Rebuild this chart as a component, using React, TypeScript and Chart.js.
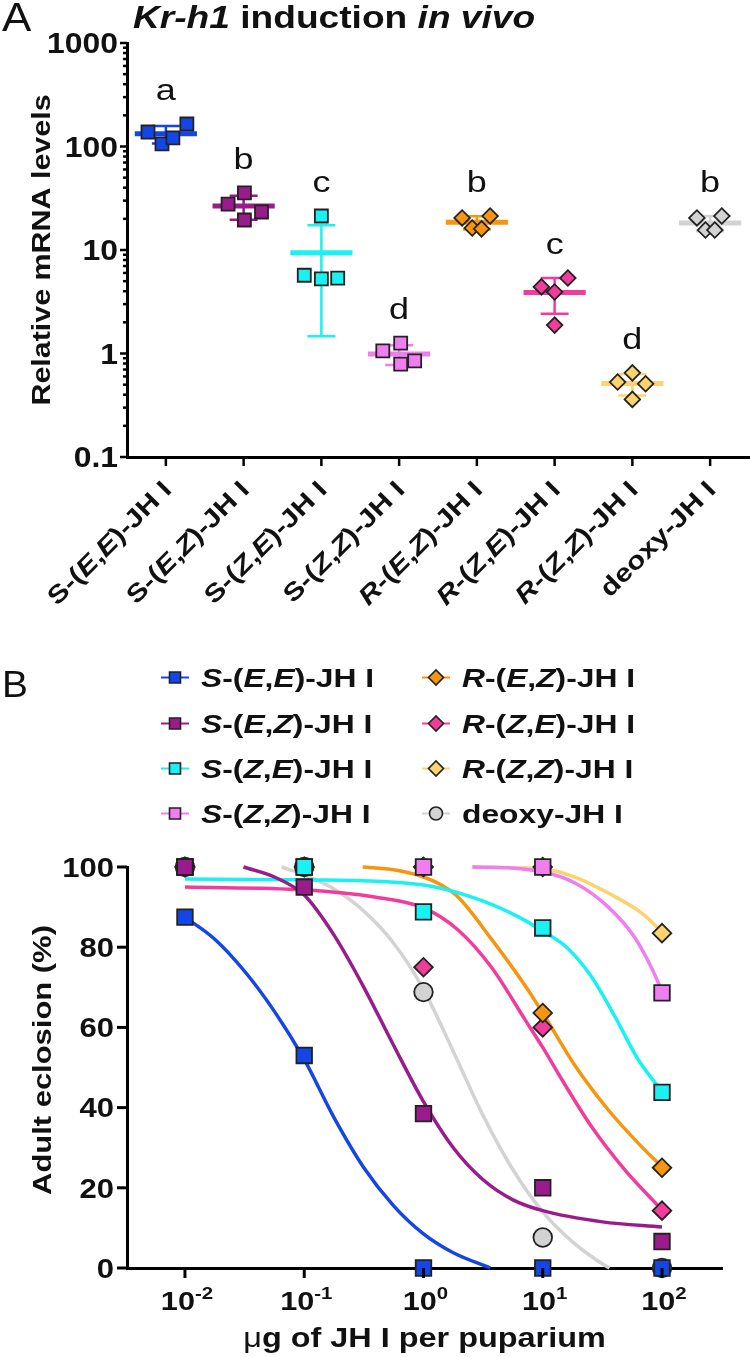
import React, { useEffect, useRef } from 'react';
import { Chart, registerables } from 'chart.js';

Chart.register(...registerables);

// ---------------- Panel A data (Kr-h1 induction, relative mRNA levels) ----------------
const compounds = ['S-(E,E)-JH I', 'S-(E,Z)-JH I', 'S-(Z,E)-JH I', 'S-(Z,Z)-JH I', 'R-(E,Z)-JH I', 'R-(Z,E)-JH I', 'R-(Z,Z)-JH I', 'deoxy-JH I'];
const krSEE = [138, 106, 121, 165];
const krSEZ = [27.8, 35.6, 19.5, 23.3];
const krSZE = [21.3, 5.7, 5.25, 5.36];
const krSZZ = [1.06, 1.26, 0.79, 0.85];
const krREZ = [20.4, 16.3, 16.0, 21.3];
const krRZE = [4.4, 3.93, 5.36, 1.88];
const krRZZ = [0.53, 0.65, 0.51, 0.36];
const krDeoxy = [20.4, 21.3, 15.6, 15.6];
const krJitter = [
  [-0.23, -0.05, 0.09, 0.27],
  [-0.2, 0.01, 0.01, 0.23],
  [0, -0.22, 0, 0.21],
  [-0.21, 0.02, 0.02, 0.2],
  [-0.19, -0.06, 0.06, 0.17],
  [-0.17, 0, 0.17, 0],
  [-0.19, 0, 0.17, 0],
  [-0.17, 0.15, -0.06, 0.06],
];
const sigLetters = ['a', 'b', 'c', 'd', 'b', 'c', 'd', 'b'];
const yTicksA = [0.1, 1, 10, 100, 1000];
const yTickLabelsA = ['0.1', '1', '10', '100', '1000'];

// ---------------- Panel B data (adult eclosion %) ----------------
const dosesB = [0.01, 0.1, 1, 10, 100];
const eclSEE = [87.5, 53, 0, 0, 0];
const eclSEZ = [100, 95, 38.5, 20, 6.6];
const eclSZE = [100, 100, 88.8, 84.8, 43.8];
const eclSZZ = [100, 100, 100, 100, 68.6];
const eclREZ = [100, 100, 100, 63.6, 25];
const eclRZE = [100, 100, 75, 60, 14.3];
const eclRZZ = [100, 100, 100, 100, 83.5];
const eclDeoxy = [100, 100, 68.8, 7.6, 0];

// fitted curves (log10 dose, % eclosion)
const fitLogSEE = [-2, -1.75, -1.5, -1.25, -1, -0.75, -0.5, -0.25, 0, 0.25, 0.56];
const fitSEE = [87.5, 82, 74, 64, 52, 37.5, 25, 15.5, 8.5, 3.8, 0];
const fitLogSEZ = [-1.51, -1.25, -1, -0.75, -0.5, -0.25, 0, 0.25, 0.5, 0.75, 1, 1.5, 2];
const fitSEZ = [100, 97.5, 93, 83, 70, 55.5, 41.5, 30, 22, 17, 14.3, 11.5, 10.2];
const fitLogSZE = [-2, -1, 0, 0.5, 0.8, 1, 1.2, 1.4, 1.6, 1.8, 2];
const fitSZE = [97, 96.8, 95.5, 91.5, 87.5, 84, 80, 73, 63, 52, 44];
const fitLogSZZ = [0.41, 0.71, 1, 1.27, 1.55, 1.77, 1.91, 2];
const fitSZZ = [100, 99.8, 98.8, 96, 90, 82.5, 75, 69];
const fitLogREZ = [-0.51, -0.25, 0, 0.15, 0.29, 0.57, 0.85, 1, 1.27, 1.55, 1.83, 2];
const fitREZ = [100, 99.3, 97.5, 95.5, 92.5, 82, 70.5, 63.6, 50.5, 39.4, 30.2, 25.2];
const fitLogRZE = [-2, -1, -0.41, 0, 0.29, 0.57, 0.85, 1, 1.16, 1.41, 1.69, 2];
const fitRZE = [95, 94.3, 92.5, 89.8, 84.3, 75, 62, 55, 47, 35.2, 24.4, 14.5];
const fitLogRZZ = [0.41, 1, 1.27, 1.55, 1.83, 2];
const fitRZZ = [100, 99.5, 97.5, 93.5, 88.5, 83.8];
const fitLogDeoxy = [-1.19, -1, -0.75, -0.5, -0.25, 0, 0.25, 0.5, 0.75, 1, 1.25, 1.45, 1.56];
const fitDeoxy = [100, 98, 94.5, 89, 81, 69.5, 54, 38, 24.5, 14, 6.5, 2, 0];

const yTicksB = [0, 20, 40, 60, 80, 100];
const xTickExpB = [-2, -1, 0, 1, 2];

// ---------------- styles ----------------
const colors = ['#1446e6', '#9a1c8c', '#18f2f2', '#f07ef0', '#f8950f', '#f23c9c', '#fcd36c', '#d3d3d3'];
const shapesA = ['rect', 'rect', 'rect', 'rect', 'rectRot', 'rectRot', 'rectRot', 'rectRot'];
const shapesB = ['rect', 'rect', 'rect', 'rect', 'rectRot', 'rectRot', 'rectRot', 'circle'];
const FONT = '"Liberation Sans", Arial, Helvetica, sans-serif';
const INK = '#111';

type Seg = { t: string; it?: boolean; w?: string; sup?: boolean };

function drawRich(
  ctx: CanvasRenderingContext2D,
  segs: Seg[],
  x: number,
  y: number,
  o: { size: number; weight?: string; align?: 'left' | 'center' | 'right'; sx?: number; rot?: number; color?: string }
) {
  const weight = o.weight ?? 'bold';
  const sx = o.sx ?? 1;
  ctx.save();
  ctx.translate(x, y);
  if (o.rot) ctx.rotate(o.rot);
  ctx.scale(sx, 1);
  ctx.fillStyle = o.color ?? INK;
  ctx.textBaseline = 'alphabetic';
  ctx.textAlign = 'left';
  const fontFor = (s: Seg) =>
    `${s.it ? 'italic ' : ''}${s.w ?? weight} ${s.sup ? Math.round(o.size * 0.68) : o.size}px ${FONT}`;
  const widths = segs.map((s) => {
    ctx.font = fontFor(s);
    return ctx.measureText(s.t).width;
  });
  const total = widths.reduce((a, b) => a + b, 0);
  let cx = o.align === 'center' ? -total / 2 : o.align === 'right' ? -total : 0;
  segs.forEach((s, i) => {
    ctx.font = fontFor(s);
    ctx.fillText(s.t, cx, s.sup ? -o.size * 0.42 : 0);
    cx += widths[i];
  });
  ctx.restore();
}

function richName(label: string, italicS: boolean): Seg[] {
  const m = label.match(/^([SR])-\(([EZ]),([EZ])\)(.*)$/);
  if (!m) return [{ t: label }];
  return [
    { t: m[1], it: m[1] === 'R' || italicS },
    { t: '-(' },
    { t: m[2], it: true },
    { t: ',' },
    { t: m[3], it: true },
    { t: ')' + m[4] },
  ];
}

function line(ctx: CanvasRenderingContext2D, x1: number, y1: number, x2: number, y2: number) {
  ctx.beginPath();
  ctx.moveTo(x1, y1);
  ctx.lineTo(x2, y2);
  ctx.stroke();
}

function drawMarker(ctx: CanvasRenderingContext2D, style: string, x: number, y: number, size: number, fill: string) {
  ctx.beginPath();
  if (style === 'rect') ctx.rect(x - size / 2, y - size / 2, size, size);
  else if (style === 'rectRot') {
    ctx.moveTo(x - size / 2, y);
    ctx.lineTo(x, y - size / 2);
    ctx.lineTo(x + size / 2, y);
    ctx.lineTo(x, y + size / 2);
    ctx.closePath();
  } else ctx.arc(x, y, size / 2, 0, Math.PI * 2);
  ctx.fillStyle = fill;
  ctx.fill();
  ctx.lineWidth = 1.6;
  ctx.strokeStyle = '#222';
  ctx.stroke();
}

const axisStyle = {
  grid: { display: false, drawTicks: false },
  ticks: { display: false },
  border: { display: true, width: 3, color: '#000' },
  title: { display: false },
};

// ---------------- Panel A ----------------
const groupsA = [krSEE, krSEZ, krSZE, krSZZ, krREZ, krRZE, krRZZ, krDeoxy];

const decorA = {
  id: 'decorA',
  afterDraw(chart: any) {
    const { ctx, chartArea, scales } = chart;
    const x = scales.x;
    const y = scales.y;
    ctx.save();
    drawRich(ctx, [{ t: 'A' }], 2, 31, { size: 40, weight: 'normal', sx: 1.1 });
    drawRich(ctx, [{ t: 'Kr-h1', it: true }, { t: ' induction ' }, { t: 'in vivo', it: true }], 133, 28, { size: 32, sx: 1.16 });

    ctx.strokeStyle = '#000';
    ctx.lineWidth = 2.5;
    [0.1, 1, 10, 100].forEach((d) => {
      for (let m = 2; m <= 9; m++) {
        const py = y.getPixelForValue(d * m);
        line(ctx, chartArea.left - 4, py, chartArea.left, py);
      }
    });
    yTicksA.forEach((v, i) => {
      const py = y.getPixelForValue(v);
      line(ctx, chartArea.left - 7, py, chartArea.left, py);
      drawRich(ctx, [{ t: yTickLabelsA[i] }], 118, py + 10.4, { size: 29, align: 'right', sx: 1.1 });
    });
    drawRich(ctx, [{ t: 'Relative mRNA levels' }], 50, (chartArea.top + chartArea.bottom) / 2, {
      size: 26, align: 'center', sx: 1.17, rot: -Math.PI / 2,
    });

    compounds.forEach((name, i) => {
      const px = x.getPixelForValue(i);
      line(ctx, px, chartArea.bottom, px, chartArea.bottom + 9);
      drawRich(ctx, richName(name, false), px + 7, chartArea.bottom + 34, {
        size: 25, align: 'right', sx: 1.2, rot: -Math.PI / 4,
      });
      const top = y.getPixelForValue(Math.max(...groupsA[i]));
      drawRich(ctx, [{ t: sigLetters[i] }], px, top - 24, { size: 30, weight: 'normal', align: 'center', sx: 1.2 });
    });
    ctx.restore();
  },
};

function PanelA() {
  const ref = useRef<HTMLCanvasElement>(null);
  useEffect(() => {
    const datasets: any[] = [];
    groupsA.forEach((vals, i) => {
      const mean = vals.reduce((a, b) => a + b, 0) / vals.length;
      const sd = Math.sqrt(vals.reduce((a, b) => a + (b - mean) ** 2, 0) / (vals.length - 1));
      const lo = mean - sd;
      const hi = mean + sd;
      const col = colors[i];
      datasets.push({
        type: 'scatter',
        label: compounds[i],
        data: vals.map((v, j) => ({ x: i + krJitter[i][j], y: v })),
        pointStyle: shapesA[i],
        pointRadius: shapesA[i] === 'rect' ? 9.2 : 7.8,
        pointHoverRadius: shapesA[i] === 'rect' ? 9.2 : 7.8,
        backgroundColor: col,
        borderColor: '#222',
        borderWidth: 1.8,
        order: 0,
        clip: false,
      });
      datasets.push({
        type: 'line',
        data: [{ x: i - 0.4, y: mean }, { x: i + 0.4, y: mean }],
        borderColor: col,
        borderWidth: 5,
        pointRadius: 0,
        order: 1,
        clip: false,
      });
      datasets.push({
        type: 'line',
        data: [
          { x: i, y: lo }, { x: i, y: hi }, { x: i, y: null },
          { x: i - 0.18, y: lo }, { x: i + 0.18, y: lo }, { x: i, y: null },
          { x: i - 0.18, y: hi }, { x: i + 0.18, y: hi },
        ],
        borderColor: col,
        borderWidth: 2.5,
        pointRadius: 0,
        spanGaps: false,
        order: 2,
        clip: false,
      });
    });
    const chart = new Chart(ref.current as HTMLCanvasElement, {
      type: 'scatter',
      data: { datasets },
      options: {
        animation: false,
        responsive: false,
        events: [],
        layout: { autoPadding: false, padding: { left: 127, right: 1, top: 43, bottom: 620 - 457 } },
        plugins: { legend: { display: false }, tooltip: { enabled: false } },
        scales: {
          x: { type: 'linear', min: -0.5, max: 7.5, ...axisStyle },
          y: { type: 'logarithmic', min: 0.1, max: 1000, ...axisStyle },
        },
      } as any,
      plugins: [decorA],
    });
    return () => chart.destroy();
  }, []);
  return <canvas ref={ref} width={750} height={620} style={{ display: 'block' }} />;
}

// ---------------- Panel B ----------------
const markersB = [eclSEE, eclSEZ, eclSZE, eclSZZ, eclREZ, eclRZE, eclRZZ, eclDeoxy];
const fitsB = [
  [fitLogSEE, fitSEE], [fitLogSEZ, fitSEZ], [fitLogSZE, fitSZE], [fitLogSZZ, fitSZZ],
  [fitLogREZ, fitREZ], [fitLogRZE, fitRZE], [fitLogRZZ, fitRZZ], [fitLogDeoxy, fitDeoxy],
];

const decorB = {
  id: 'decorB',
  afterDraw(chart: any) {
    const { ctx, chartArea, scales } = chart;
    const x = scales.x;
    const y = scales.y;
    ctx.save();
    drawRich(ctx, [{ t: 'B' }], 2, 77, { size: 36, weight: 'normal', sx: 1.08 });

    // legend
    const rows = [67, 113, 158, 203];
    const cols = [{ mx: 175, tx: 201 }, { mx: 436, tx: 462 }];
    compounds.forEach((name, i) => {
      const c = cols[Math.floor(i / 4)];
      const base = rows[i % 4];
      const cy = base - 9.5;
      ctx.strokeStyle = colors[i];
      ctx.lineWidth = 2;
      line(ctx, c.mx - 14, cy, c.mx + 14, cy);
      const st = shapesB[i];
      drawMarker(ctx, st, c.mx, cy, st === 'rect' ? 11 : st === 'rectRot' ? 15 : 13, colors[i]);
      drawRich(ctx, richName(name, true), c.tx, base, { size: 26.5, sx: 1.2 });
    });

    ctx.strokeStyle = '#000';
    ctx.lineWidth = 3;
    yTicksB.forEach((v) => {
      const py = y.getPixelForValue(v);
      line(ctx, chartArea.left - 10, py, chartArea.left, py);
      drawRich(ctx, [{ t: String(v) }], 114, py + 9.7, { size: 27, align: 'right', sx: 1.15 });
    });
    xTickExpB.forEach((e) => {
      const px = x.getPixelForValue(Math.pow(10, e));
      line(ctx, px, chartArea.bottom, px, chartArea.bottom + 10);
      drawRich(ctx, [{ t: '10' }, { t: String(e), sup: true }], px + 2, chartArea.bottom + 42, {
        size: 25.5, align: 'center', sx: 1.2,
      });
    });
    drawRich(ctx, [{ t: 'Adult eclosion (%)' }], 51, 440, { size: 26, align: 'center', sx: 1.19, rot: -Math.PI / 2 });
    drawRich(ctx, [{ t: 'μ', w: 'normal' }, { t: 'g of JH I per puparium' }], (chartArea.left + chartArea.right) / 2, 727, {
      size: 27, align: 'center', sx: 1.2,
    });
    ctx.restore();
  },
};

function PanelB() {
  const ref = useRef<HTMLCanvasElement>(null);
  useEffect(() => {
    const datasets: any[] = [];
    markersB.forEach((vals, i) => {
      const st = shapesB[i];
      const r = st === 'rect' ? 11 : 9.3;
      datasets.push({
        type: 'scatter',
        label: compounds[i],
        data: vals.map((v, j) => ({ x: dosesB[j], y: v })),
        pointStyle: st,
        pointRadius: r,
        pointHoverRadius: r,
        backgroundColor: colors[i],
        borderColor: '#222',
        borderWidth: 1.8,
        order: i,
        clip: false,
      });
      const [lx, ly] = fitsB[i];
      datasets.push({
        type: 'line',
        data: lx.map((e, j) => ({ x: Math.pow(10, e), y: ly[j] })),
        borderColor: colors[i],
        borderWidth: 3.5,
        pointRadius: 0,
        cubicInterpolationMode: 'monotone',
        order: 10 + i,
        clip: 4,
      });
    });
    const chart = new Chart(ref.current as HTMLCanvasElement, {
      type: 'scatter',
      data: { datasets },
      options: {
        animation: false,
        responsive: false,
        events: [],
        layout: { autoPadding: false, padding: { left: 127, right: 28, top: 247, bottom: 89 } },
        plugins: { legend: { display: false }, tooltip: { enabled: false } },
        scales: {
          x: { type: 'logarithmic', min: Math.pow(10, -2.486), max: Math.pow(10, 2.503), ...axisStyle },
          y: { type: 'linear', min: 0, max: 100, ...axisStyle },
        },
      } as any,
      plugins: [decorB],
    });
    return () => chart.destroy();
  }, []);
  return <canvas ref={ref} width={750} height={737} style={{ display: 'block' }} />;
}

export default function App() {
  useEffect(() => {
    document.body.style.margin = '0';
  }, []);
  return (
    <div style={{ width: 750, background: '#fff' }}>
      <PanelA />
      <PanelB />
    </div>
  );
}
